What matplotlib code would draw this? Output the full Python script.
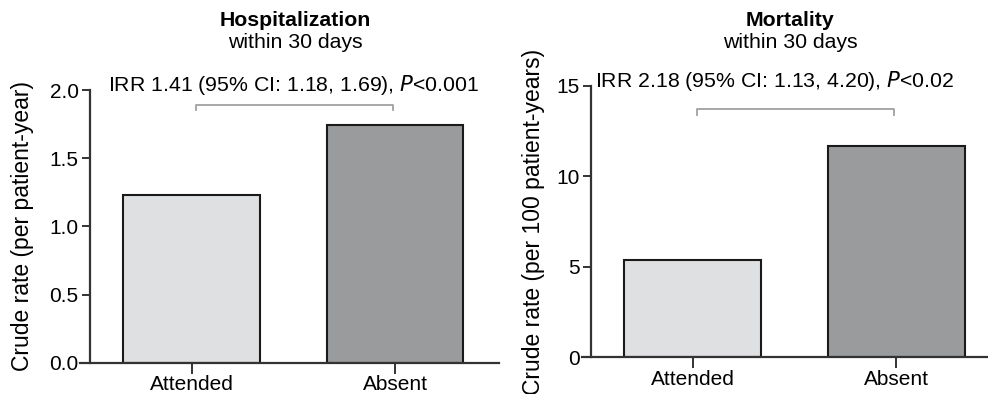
import matplotlib
matplotlib.use("Agg")
import matplotlib.pyplot as plt

plt.rcParams['font.family'] = ['Liberation Sans', 'DejaVu Sans']

groups = ['Attended', 'Absent']
hosp_rates = [1.23, 1.74]
mort_rates = [5.38, 11.65]
hosp_ticks = [0.0, 0.5, 1.0, 1.5, 2.0]
mort_ticks = [0, 5, 10, 15]
bar_colors = ['#dfe0e2', '#9a9b9d']

fig = plt.figure(figsize=(9.88, 3.94), dpi=100)

def draw_panel(ax, rates, ticks, fmt, ylabel, ypad, irr_text, text_x, br_y, br_drop):
    x = list(range(len(groups)))
    ax.bar(x, rates, width=0.673, color=bar_colors, edgecolor='#1a1a1a', linewidth=1.5, zorder=2)
    ax.set_ylim(ticks[0], ticks[-1])
    ax.set_yticks(ticks)
    ax.set_yticklabels([fmt.format(t) for t in ticks])
    ax.set_xticks(x)
    ax.set_xticklabels(groups)
    for s in ['top', 'right']:
        ax.spines[s].set_visible(False)
    ax.spines['left'].set_position(('data', -0.5))
    for s in ['left', 'bottom']:
        ax.spines[s].set_linewidth(1.6)
        ax.spines[s].set_color('#333333')
    ax.tick_params(axis='y', direction='out', length=6, width=1.4, color='#333333',
                   labelsize=15, pad=2)
    ax.tick_params(axis='x', direction='out', length=8, width=1.4, color='#333333',
                   labelsize=15, pad=1)
    ax.set_ylabel(ylabel, fontsize=16.5, labelpad=ypad)
    # comparison bracket
    ax.plot([0.02, 0.02, 0.99, 0.99], [br_y - br_drop, br_y, br_y, br_y - br_drop],
            color='#a0a0a0', linewidth=1.3, clip_on=False)
    ax.text(text_x, ticks[-1] * 1.02, irr_text, ha='center', va='center',
            fontsize=15.3, clip_on=False)

ax1 = fig.add_axes([0.081, 0.0795, 0.424, 0.692])
ax1.set_xlim(-0.548, 1.511)
draw_panel(ax1, hosp_rates, hosp_ticks, '{:.1f}', 'Crude rate (per patient-year)', 11,
           'IRR 1.41 (95% CI: 1.18, 1.69), $\\it{P}$<0.001', 0.5, 1.89, 0.04)

ax2 = fig.add_axes([0.589, 0.0939, 0.411, 0.688])
ax2.set_xlim(-0.545, 1.45)
draw_panel(ax2, mort_rates, mort_ticks, '{:d}', 'Crude rate (per 100 patient-years)', 8,
           'IRR 2.18 (95% CI: 1.13, 4.20), $\\it{P}$<0.02', 0.4, 13.7, 0.3)

fig.text(295 / 988, 1 - 20 / 394, 'Hospitalization', ha='center', va='center',
         fontsize=15.3, fontweight='bold')
fig.text(295 / 988, 1 - 43 / 394, 'within 30 days', ha='center', va='center', fontsize=15.3)
fig.text(790 / 988, 1 - 20 / 394, 'Mortality', ha='center', va='center',
         fontsize=15.3, fontweight='bold')
fig.text(790 / 988, 1 - 43 / 394, 'within 30 days', ha='center', va='center', fontsize=15.3)

fig.savefig('out.png', dpi=100)
